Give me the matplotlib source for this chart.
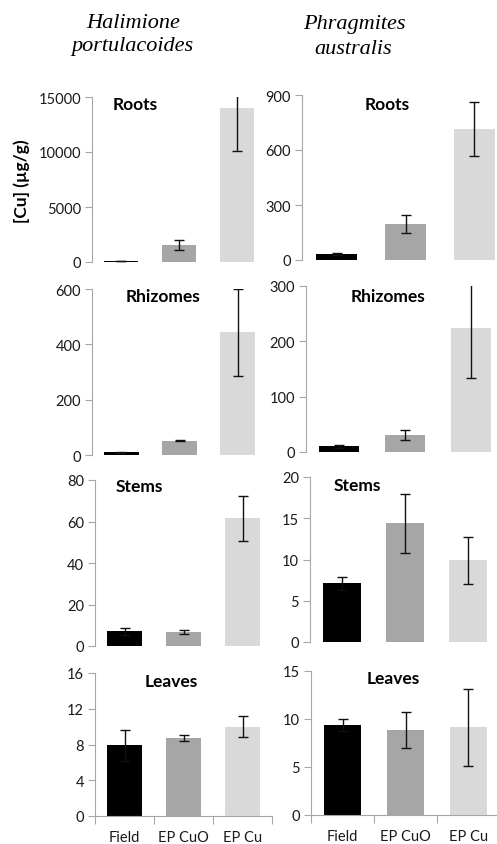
import numpy as np
import matplotlib
matplotlib.use("Agg")
import matplotlib.pyplot as plt

plt.rcParams['font.family'] = ['Lato', 'DejaVu Sans']

# --- data ---
treatments = ["Field", "EP CuO", "EP Cu"]
colors = ["#000000", "#a6a6a6", "#d9d9d9"]
organs = ["Roots", "Rhizomes", "Stems", "Leaves"]

halimione_roots = [60, 1550, 14000]
halimione_roots_err = [0, 420, 3900]
halimione_rhizomes = [10, 52, 443]
halimione_rhizomes_err = [2, 2, 157]
halimione_stems = [7.0, 6.6, 61.5]
halimione_stems_err = [1.6, 1.0, 11.0]
halimione_leaves = [7.9, 8.7, 10.0]
halimione_leaves_err = [1.7, 0.35, 1.15]

phragmites_roots = [32, 195, 716]
phragmites_roots_err = [4, 50, 147]
phragmites_rhizomes = [10, 31, 224]
phragmites_rhizomes_err = [2, 9.5, 90]
phragmites_stems = [7.1, 14.4, 9.9]
phragmites_stems_err = [0.8, 3.6, 2.85]
phragmites_leaves = [9.4, 8.85, 9.15]
phragmites_leaves_err = [0.6, 1.9, 4.0]

halimione_ticks = [[0, 5000, 10000, 15000], [0, 200, 400, 600],
                   [0, 20, 40, 60, 80], [0, 4, 8, 12, 16]]
phragmites_ticks = [[0, 300, 600, 900], [0, 100, 200, 300],
                    [0, 5, 10, 15, 20], [0, 5, 10, 15]]

W, H = 497, 845
fig = plt.figure(figsize=(W / 100, H / 100), dpi=100)


def rect(x0, x1, yt, yb):
    return [x0 / W, 1 - yb / H, (x1 - x0) / W, (yb - yt) / H]


def ftext(x, y, s, **kw):
    fig.text(x / W, 1 - y / H, s, **kw)


# panel boxes in pixels: (left, right, top, bottom)
left_boxes = [(92, 266, 98, 263), (92, 267, 290, 456),
              (95, 272, 481, 647), (95, 272, 674, 817)]
right_boxes = [(302, 509, 96, 261), (306, 504, 287, 453),
               (310, 500, 478, 643), (311, 500, 672, 816)]

left_data = [(halimione_roots, halimione_roots_err),
             (halimione_rhizomes, halimione_rhizomes_err),
             (halimione_stems, halimione_stems_err),
             (halimione_leaves, halimione_leaves_err)]
right_data = [(phragmites_roots, phragmites_roots_err),
              (phragmites_rhizomes, phragmites_rhizomes_err),
              (phragmites_stems, phragmites_stems_err),
              (phragmites_leaves, phragmites_leaves_err)]

spine_col = "#a6a6a6"
txt_col = "#1a1a1a"


def draw_panel(box, vals, errs, ticks, bottom):
    ax = fig.add_axes(rect(*box))
    x = np.arange(len(treatments))
    ax.bar(x, vals, width=0.6, color=colors, zorder=2)
    ax.errorbar(x, vals, yerr=errs, fmt='none', ecolor='#111111',
                elinewidth=1.0, capsize=3.5, capthick=1.0, zorder=3)
    ax.set_xlim(-0.5, 2.5)
    ax.set_ylim(ticks[0], ticks[-1])
    ax.set_yticks(ticks)
    ax.set_yticklabels([str(t) for t in ticks], fontsize=10.5, color=txt_col)
    for s in ["top", "right"]:
        ax.spines[s].set_visible(False)
    ax.spines["left"].set_color(spine_col)
    ax.tick_params(axis='y', direction='out', length=5, color=spine_col, pad=3)
    if bottom:
        ax.spines["bottom"].set_color(spine_col)
        ax.set_xticks([-0.5, 0.5, 1.5, 2.5])
        ax.set_xticklabels([])
        ax.tick_params(axis='x', which='major', direction='out', length=6,
                       color=spine_col)
        ax.set_xticks(x, minor=True)
        ax.set_xticklabels(treatments, minor=True, fontsize=10.5, color=txt_col)
        ax.tick_params(axis='x', which='minor', length=0, pad=10)
    else:
        ax.spines["bottom"].set_visible(False)
        ax.set_xticks([])
    ax.patch.set_alpha(0)
    return ax


for i in range(4):
    draw_panel(left_boxes[i], *left_data[i], halimione_ticks[i], i == 3)
    draw_panel(right_boxes[i], *right_data[i], phragmites_ticks[i], i == 3)

# organ labels
left_lab = [(135, 105), (163, 297), (139, 487), (171, 682)]
right_lab = [(387, 105), (388, 297), (357, 486), (393, 679)]
for name, (lx, ly), (rx, ry) in zip(organs, left_lab, right_lab):
    ftext(lx, ly, name, fontsize=12.5, fontweight='bold', ha='center',
          va='center', color='#000000')
    ftext(rx, ry, name, fontsize=12.5, fontweight='bold', ha='center',
          va='center', color='#000000')

# species titles
serif = ['Liberation Serif', 'DejaVu Serif']
ftext(133, 23, "Halimione", family=serif, style='italic', fontsize=16,
      ha='center', va='center')
ftext(132, 47, "portulacoides", family=serif, style='italic', fontsize=16,
      ha='center', va='center')
ftext(354, 25, "Phragmites", family=serif, style='italic', fontsize=16,
      ha='center', va='center')
ftext(353, 50, "australis", family=serif, style='italic', fontsize=16,
      ha='center', va='center')

ftext(22, 181, "[Cu] (µg/g)", fontsize=12.5, fontweight='bold', rotation=90,
      ha='center', va='center', color='#000000')

fig.savefig("out.png", dpi=100)
